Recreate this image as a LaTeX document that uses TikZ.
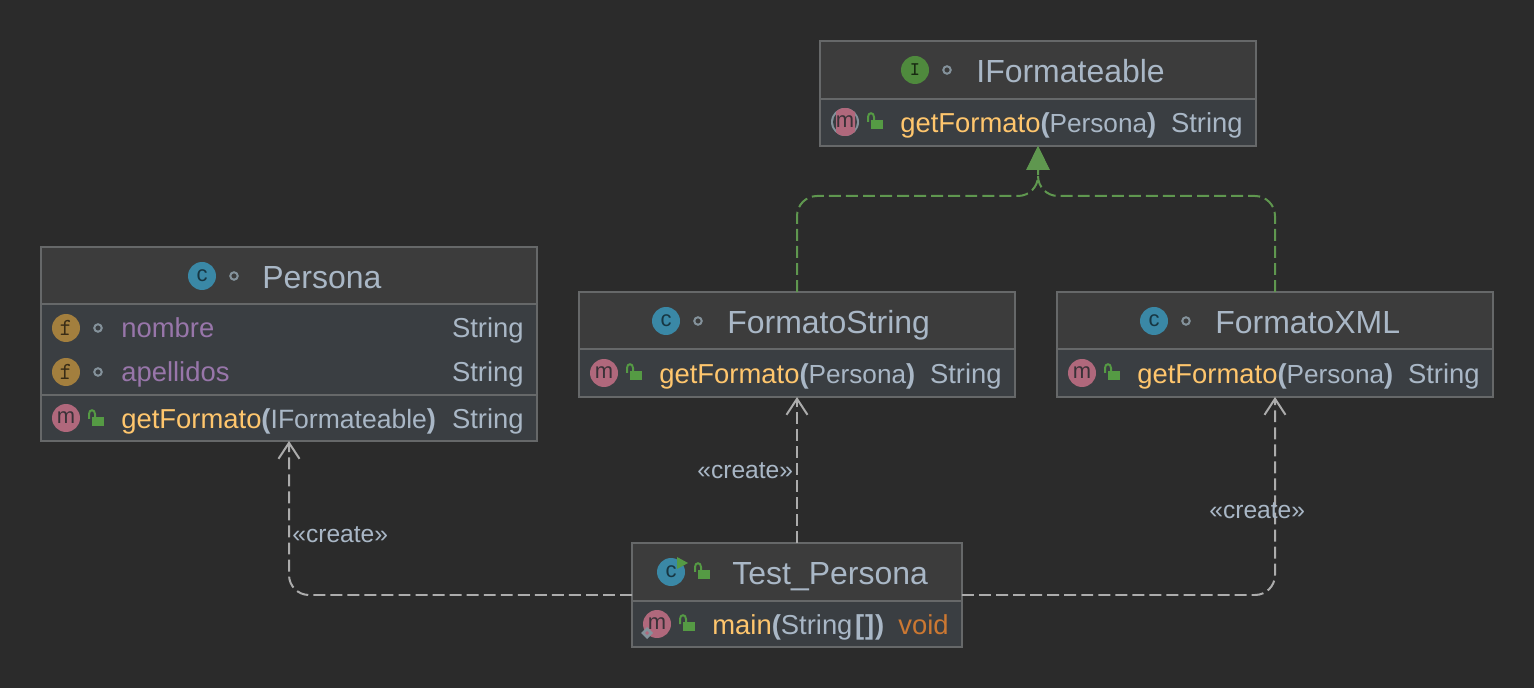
\documentclass[tikz,border=0pt]{standalone}
\usepackage{fontspec}
\setmainfont{Liberation Sans}
\usetikzlibrary{arrows.meta}

\definecolor{canvasbg}{HTML}{2B2B2B}
\definecolor{headbg}{HTML}{3C3C3C}
\definecolor{bodybg}{HTML}{3A3E42}
\definecolor{boxline}{HTML}{666869}
\definecolor{plaintext}{HTML}{A9B7C6}
\definecolor{methodtext}{HTML}{FFC66D}
\definecolor{fieldtext}{HTML}{9876AA}
\definecolor{voidtext}{HTML}{CC7832}
\definecolor{classicon}{HTML}{3A88A6}
\definecolor{fieldicon}{HTML}{A37F3E}
\definecolor{methodicon}{HTML}{B0687C}
\definecolor{ifaceicon}{HTML}{4F8A3D}
\definecolor{lockgreen}{HTML}{559A44}
\definecolor{implgreen}{HTML}{5F974F}
\definecolor{createline}{HTML}{ACACAC}
\definecolor{ringgrey}{HTML}{84929B}
\definecolor{icondark}{HTML}{3A3238}

\tikzset{
  classbox/.style={draw=boxline, line width=2*0.569pt, fill=bodybg, inner sep=0, outer sep=0},
  headbox/.style={classbox, fill=headbg},
  rowbox/.style={draw=boxline, line width=2*0.569pt, inner sep=0, outer sep=0},
  titletext/.style={anchor=base west, inner sep=0, text=plaintext, font=\fontsize{18.2}{22}\selectfont},
  rowtext/.style={anchor=base west, inner sep=0, text=plaintext, font=\fontsize{15.6}{19}\selectfont},
  typetext/.style={rowtext, anchor=base east},
  createlabel/.style={inner sep=0, anchor=base west, text=plaintext, font=\fontsize{14}{17}\selectfont},
  iconbase/.style={circle, minimum size=0.56cm, inner sep=0, text=icondark, font=\fontsize{12.5}{12.5}\selectfont},
  iconc/.style={iconbase, fill=classicon, text=classicon!40!black, text height=1.2ex, text depth=0pt},
  iconf/.style={iconbase, fill=fieldicon, text=fieldicon!35!black, font=\ttfamily\fontsize{14}{14}\selectfont},
  iconm/.style={iconbase, fill=methodicon, text height=1.2ex, text depth=0pt},
  iconi/.style={iconbase, fill=ifaceicon, text=ifaceicon!30!black, font=\ttfamily\bfseries\fontsize{11}{11}\selectfont},
  ringdot/.style={circle, draw=ringgrey, line width=2*0.569pt, minimum size=0.15cm, inner sep=0},
  createarrow/.style={draw=createline, line width=2*0.569pt, dash pattern=on 6.8pt off 2.9pt,
    rounded corners=0.4cm, -{Straight Barb[length=0.32cm, width=0.42cm]}},
  implarrow/.style={draw=implgreen, line width=2*0.569pt, dash pattern=on 6.8pt off 2.9pt,
    rounded corners=0.4cm, -{Triangle[length=0.48cm, width=0.46cm]}}
}

% open padlock, drawn round a point
\newcommand{\lockmark}[2]{
  \begin{scope}[shift={(#1,#2)}]
    \fill[lockgreen] (-4,-2) rectangle (8,7);
    \draw[lockgreen, line width=2*0.569pt] (-7,0) -- (-7,-5) .. controls (-7,-10) and (-1,-10) .. (-1,-5) -- (-1,-2);
  \end{scope}
}
% argument of a method, set a little narrower
\newcommand{\argtext}[2]{{\fontsize{#1}{19}\selectfont #2}}

\begin{document}
\begin{tikzpicture}[x=0.02cm, y=-0.02cm]
  \fill[canvasbg] (0,0) rectangle (1534,688);
  \useasboundingbox (0,0) rectangle (1534,688);

  % Boxes
  \node[classbox, minimum width=8.72cm, minimum height=2.10cm] (iform) at (1038,93.5) {};
  \node[headbox, minimum width=8.72cm, minimum height=1.16cm, anchor=north] (iformHead) at (iform.north) {};
  \node[classbox, minimum width=9.92cm, minimum height=3.88cm] (persona) at (289,344) {};
  \node[headbox, minimum width=9.92cm, minimum height=1.14cm, anchor=north] (personaHead) at (persona.north) {};
  \node[rowbox, minimum width=9.92cm, minimum height=1.82cm, anchor=north] (personaFields) at (personaHead.south) {};
  \node[classbox, minimum width=8.72cm, minimum height=2.10cm] (fstring) at (797,344.5) {};
  \node[headbox, minimum width=8.72cm, minimum height=1.14cm, anchor=north] (fstringHead) at (fstring.north) {};
  \node[classbox, minimum width=8.72cm, minimum height=2.10cm] (fxml) at (1275,344.5) {};
  \node[headbox, minimum width=8.72cm, minimum height=1.14cm, anchor=north] (fxmlHead) at (fxml.north) {};
  \node[classbox, minimum width=6.60cm, minimum height=2.08cm] (test) at (797,595) {};
  \node[headbox, minimum width=6.60cm, minimum height=1.16cm, anchor=north] (testHead) at (test.north) {};

  % IFormateable
  \node[iconi] (iformIcon) at (915,70) {I};
  \node[ringdot] (iformDot) at (947,70) {};
  \node[titletext] (iformTitle) at (976,82.5) {IFormateable};
  \fill[ringgrey] (845,122) circle (14);
  \fill[bodybg] (845,122) circle (12);
  \begin{scope}
    \clip (836,108) rectangle (855,136);
    \fill[methodicon] (845,122) circle (14);
  \end{scope}
  \node[inner sep=0, text=icondark, font=\fontsize{12.5}{12.5}\selectfont, text height=1.2ex, text depth=0pt] (iformMIcon) at (845,122) {m};
  \lockmark{875}{122}
  \node[rowtext] (iformMethod) at (900,133) {\textcolor{methodtext}{getFormato}\textbf{(}\argtext{14.9}{Persona}\textbf{)}};
  \node[typetext] (iformType) at (1243,133) {String};

  % Persona
  \node[iconc] (personaIcon) at (202,276) {c};
  \node[ringdot] (personaDot) at (234,276) {};
  \node[titletext] (personaTitle) at (262,288.5) {Persona};
  \node[iconf] (nombreIcon) at (66,328) {f};
  \node[ringdot] (nombreDot) at (98,328) {};
  \node[rowtext, text=fieldtext] (nombreText) at (121,338) {nombre};
  \node[typetext] (nombreType) at (524,338) {String};
  \node[iconf] (apellidosIcon) at (66,372) {f};
  \node[ringdot] (apellidosDot) at (98,372) {};
  \node[rowtext, text=fieldtext] (apellidosText) at (121,382) {apellidos};
  \node[typetext] (apellidosType) at (524,382) {String};
  \node[iconm] (personaMIcon) at (66,418) {m};
  \lockmark{96}{419}
  \node[rowtext] (personaMethod) at (121,429) {\textcolor{methodtext}{getFormato}\textbf{(}\argtext{15.1}{IFormateable}\textbf{)}};
  \node[typetext] (personaType) at (524,429) {String};

  % FormatoString
  \node[iconc] (fstringIcon) at (666,321) {c};
  \node[ringdot] (fstringDot) at (698,321) {};
  \node[titletext] (fstringTitle) at (727,333.5) {FormatoString};
  \node[iconm] (fstringMIcon) at (604,373) {m};
  \lockmark{634}{373}
  \node[rowtext] (fstringMethod) at (659,384) {\textcolor{methodtext}{getFormato}\textbf{(}\argtext{14.9}{Persona}\textbf{)}};
  \node[typetext] (fstringType) at (1002,384) {String};

  % FormatoXML
  \node[iconc] (fxmlIcon) at (1154,321) {c};
  \node[ringdot] (fxmlDot) at (1186,321) {};
  \node[titletext] (fxmlTitle) at (1215,333.5) {FormatoXML};
  \node[iconm] (fxmlMIcon) at (1082,373) {m};
  \lockmark{1112}{373}
  \node[rowtext] (fxmlMethod) at (1137,384) {\textcolor{methodtext}{getFormato}\textbf{(}\argtext{14.9}{Persona}\textbf{)}};
  \node[typetext] (fxmlType) at (1480,384) {String};

  % Test_Persona
  \node[iconc] (testIcon) at (671,572) {c};
  \fill[lockgreen] (677,557) -- (688,563) -- (677,569) -- cycle;
  \lockmark{702}{572}
  \node[titletext] (testTitle) at (732,584) {Test\_Persona};
  \node[iconm] (testMIcon) at (657,624) {m};
  \fill[ringgrey] (647,627) -- (653,633) -- (647,639) -- (641,633) -- cycle;
  \fill[methodicon] (647,631) -- (649,633) -- (647,635) -- (645,633) -- cycle;
  \lockmark{687}{624}
  \node[rowtext] (testMethod) at (712,634) {\textcolor{methodtext}{main}\textbf{(}String\hspace{1.5pt}\textbf{[\hspace{0.5pt}]\hspace{0.5pt})}};
  \node[typetext, text=voidtext] (testType) at (949,634) {void};

  % Links
  \coordinate (implJoin) at (1038,196);
  \draw[createarrow] (test.west) -| (persona.south);
  \draw[createarrow] (test.north) -- (fstring.south);
  \draw[createarrow] (test.east) -| (fxml.south);
  \draw[implarrow] (fstring.north) |- (implJoin) -- (iform.south);
  \draw[implarrow] (fxml.north) |- (implJoin) -- (iform.south);

  % Labels
  \node[createlabel] (createA) at (292,542.5) {«create»};
  \node[createlabel] (createB) at (697,478.5) {«create»};
  \node[createlabel] (createC) at (1209,518.5) {«create»};
\end{tikzpicture}
\end{document}
